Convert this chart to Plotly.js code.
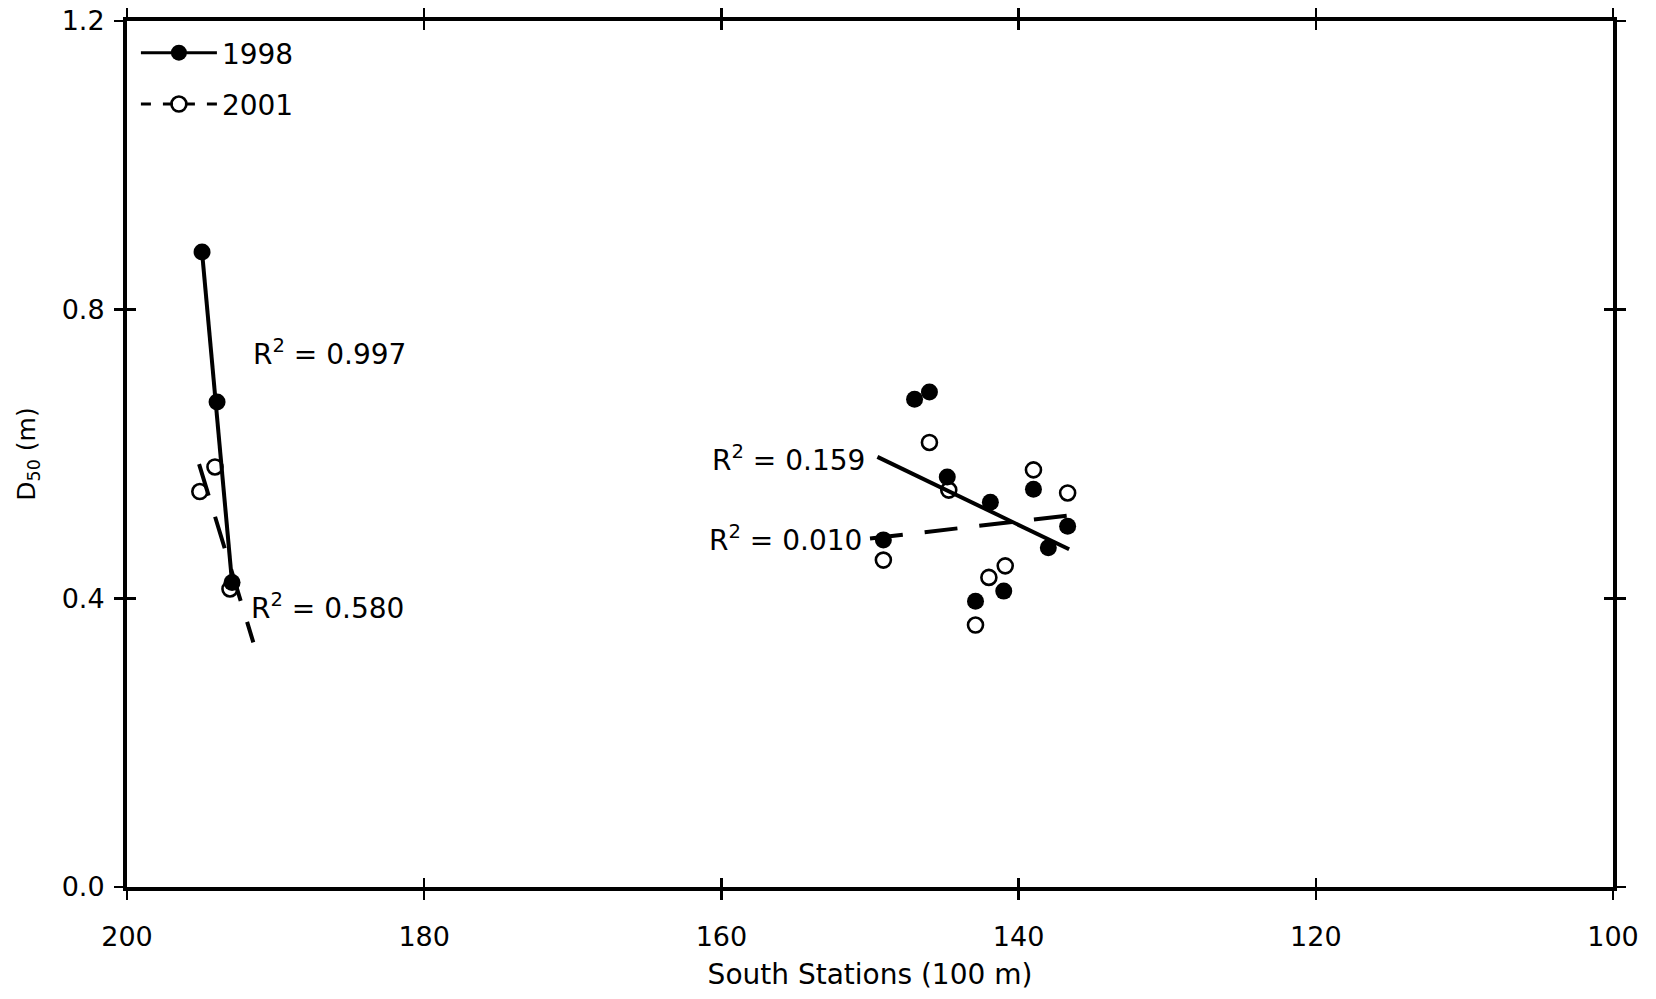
<!DOCTYPE html>
<html>
<head>
<meta charset="utf-8">
<script src="https://cdn.plot.ly/plotly-3.0.1.min.js"></script>
<style>html,body{margin:0;padding:0;background:#fff;}#chart{width:1656px;height:999px;}</style>
</head>
<body>
<div id="chart"></div>
<script>
// Stations (100 m) and D50 (m) values
const st1998 = [194.95, 193.94, 192.93, 149.1, 147.0, 146.0, 144.8, 142.9, 141.9, 141.0, 139.0, 138.0, 136.7];
const d1998  = [0.880, 0.672, 0.422, 0.481, 0.676, 0.686, 0.568, 0.396, 0.533, 0.410, 0.551, 0.470, 0.500];
const st2001 = [195.1, 194.08, 193.07, 149.1, 146.0, 144.7, 142.9, 142.0, 140.9, 139.0, 136.7];
const d2001  = [0.548, 0.582, 0.413, 0.453, 0.616, 0.550, 0.363, 0.429, 0.445, 0.578, 0.546];

// Regression trend line end points (left group, right group)
const fit1998x = [194.95, 192.93, null, 149.5, 136.6];
const fit1998y = [0.880, 0.422, null, 0.596, 0.468];
const fit2001x = [195.15, 191.5, null, 150.0, 136.5];
const fit2001y = [0.586, 0.339, null, 0.483, 0.515];

// R² labels
const r2Text = ["R<sup>2</sup> = 0.997", "R<sup>2</sup> = 0.580", "R<sup>2</sup> = 0.159", "R<sup>2</sup> = 0.010"];
const r2X = [191.66, 191.8, 150.2, 150.4];
const r2Y = [0.741, 0.388, 0.594, 0.483];
const r2Anchor = ["left", "left", "right", "right"];

const xTicks = [200, 180, 160, 140, 120, 100];
const yTicks = [0.0, 0.4, 0.8, 1.2];
const yTickText = ["0.0", "0.4", "0.8", "1.2"];

const FONT = "DejaVu Sans, Liberation Sans, Arial, sans-serif";
const dashPat = "33px,22px";

const traces = [
  { x: fit1998x, y: fit1998y, mode: "lines", line: {color: "#000", width: 4}, showlegend: false, hoverinfo: "skip" },
  { x: fit2001x, y: fit2001y, mode: "lines", line: {color: "#000", width: 4, dash: dashPat}, showlegend: false, hoverinfo: "skip" },
  { x: st1998, y: d1998, mode: "markers", marker: {symbol: "circle", size: 17, color: "#000"}, showlegend: false },
  { x: st2001, y: d2001, mode: "markers", marker: {symbol: "circle-open", size: 15, color: "#000", line: {width: 2.6, color: "#000"}}, showlegend: false },
  { x: [null], y: [null], name: "1998", legendgroup: "a", mode: "lines+markers",
    line: {color: "#000", width: 3}, marker: {symbol: "circle", size: 17, color: "#000"} },
  { x: [null], y: [null], name: "2001", legendgroup: "b", mode: "lines+markers",
    line: {color: "#000", width: 3, dash: "10px,12px"}, marker: {symbol: "circle-open", size: 15, color: "#000", line: {width: 2.6, color: "#000"}} },
  // carrier for the inner-tick overlay axes
  { x: [null], y: [null], xaxis: "x2", yaxis: "y2", mode: "markers", showlegend: false, hoverinfo: "skip" }
];

const annotations = r2Text.map((t, i) => ({
  x: r2X[i], y: r2Y[i], xref: "x", yref: "y", text: t, showarrow: false,
  xanchor: r2Anchor[i], yanchor: "middle", font: {family: FONT, size: 28, color: "#000"}
}));

const axisCommon = {
  showgrid: false, zeroline: false, showline: true, linecolor: "#000", linewidth: 4,
  ticks: "outside", ticklen: 9, tickwidth: 2.5, tickcolor: "#000", mirror: "ticks",
  tickfont: {family: FONT, size: 27, color: "#000"}
};

const layout = {
  width: 1656, height: 999,
  margin: {l: 127, r: 43, t: 21, b: 112, pad: 0},
  paper_bgcolor: "#fff", plot_bgcolor: "#fff",
  font: {family: FONT, color: "#000"},
  showlegend: true,
  legend: {x: 0.006, y: 0.992, xanchor: "left", yanchor: "top", bgcolor: "rgba(0,0,0,0)",
           font: {family: FONT, size: 28, color: "#000"}, itemwidth: 76, tracegroupgap: 12},
  xaxis: Object.assign({}, axisCommon, {
    range: [200, 100], tickvals: xTicks, ticktext: xTicks.map(String), ticklabelstandoff: 14,
    title: {text: "South Stations (100 m)", font: {family: FONT, size: 28, color: "#000"}, standoff: 14}
  }),
  yaxis: Object.assign({}, axisCommon, {
    range: [0, 1.2], tickvals: yTicks, ticktext: yTickText, ticklabelstandoff: 4,
    title: {text: "D<sub>50</sub> (m)", font: {family: FONT, size: 25, color: "#000"}, standoff: 20}
  }),
  xaxis2: {overlaying: "x", anchor: "y2", range: [200, 100], showgrid: false, zeroline: false, showline: false,
    ticks: "inside", ticklen: 9, tickwidth: 2.5, tickcolor: "#000", mirror: "ticks", tickvals: xTicks, showticklabels: false},
  yaxis2: {overlaying: "y", anchor: "x2", range: [0, 1.2], showgrid: false, zeroline: false, showline: false,
    ticks: "inside", ticklen: 9, tickwidth: 2.5, tickcolor: "#000", mirror: "ticks", tickvals: yTicks, showticklabels: false},
  annotations: annotations
};

Plotly.newPlot("chart", traces, layout, {displayModeBar: false, staticPlot: true});
</script>
</body>
</html>
